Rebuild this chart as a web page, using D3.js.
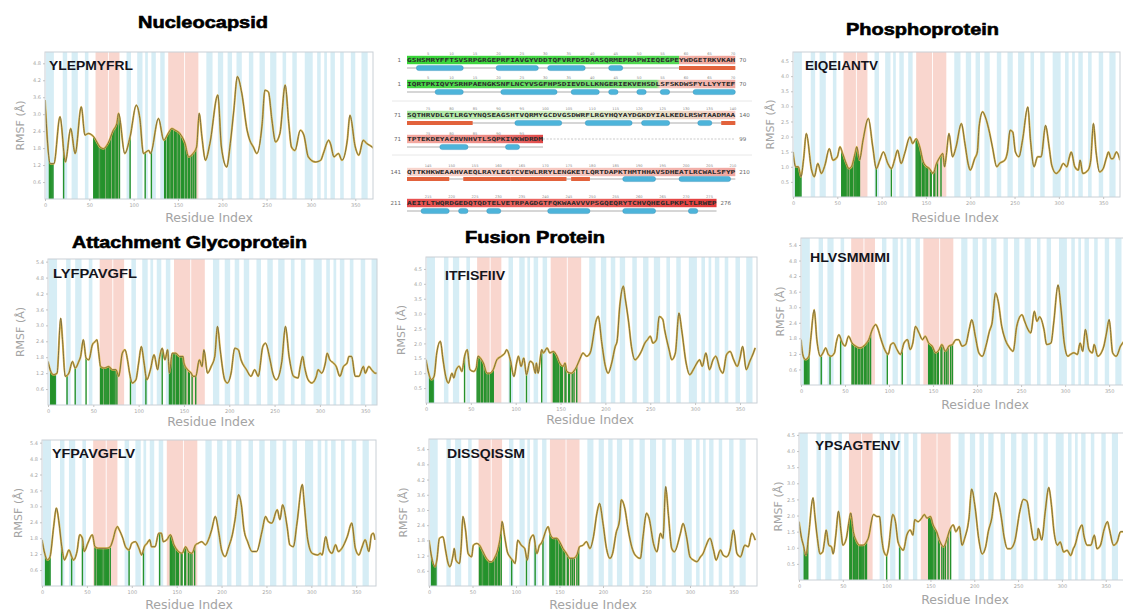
<!DOCTYPE html>
<html>
<head>
<meta charset="utf-8">
<script src="https://cdn.jsdelivr.net/npm/d3@7"></script>
<style>
  body { margin: 0; background: #fff; }
  svg { display: block; }
</style>
</head>
<body>
<svg width="1123" height="613"></svg>
<script>
// ---- data ----
const proteinTitles = ["Nucleocapsid", "Phosphoprotein", "Attachment Glycoprotein", "Fusion Protein"];
const peptides = ["YLEPMYFRL", "EIQEIANTV", "LYFPAVGFL", "ITFISFIIV", "HLVSMMIMI", "YFPAVGFLV", "DISSQISSM", "YPSAGTENV"];

const xTicks = [0, 50, 100, 150, 200, 250, 300, 350];
const yTicksA = [0.6, 1.2, 1.8, 2.4, 3.0, 3.6, 4.2, 4.8, 5.4];
const yTicksB = [0.5, 1.0, 1.5, 2.0, 2.5, 3.0, 3.5, 4.0, 4.5];

// [residue, RMSF] pairs
const rmsfYLEPMYFRL = [[0,3.5],[6,1.25],[10,1.25],[17,2.91],[23,1.31],[29,2.49],[34,1.61],[41,3.26],[45,2.26],[49,2.32],[55,2.2],[62,1.84],[66,1.78],[71,1.96],[77,2.43],[81,2.67],[83,3.03],[90,1.61],[96,2.2],[103,3.32],[107,2.85],[111,1.61],[117,1.72],[119,1.61],[128,2.85],[134,2.08],[139,2.32],[143,2.49],[147,2.43],[152,2.32],[158,1.96],[162,1.49],[167,1.61],[171,1.84],[174,3.03],[177,2.2],[181,1.37],[186,1.96],[195,3.68],[199,1.84],[205,1.13],[209,1.96],[213,3.14],[217,4.33],[222,3.74],[228,2.43],[231,2.08],[235,1.84],[239,1.61],[245,2.67],[248,3.85],[252,3.79],[256,2.79],[260,2.02],[265,2.32],[271,4.03],[275,2.67],[278,1.84],[282,1.72],[288,2.43],[292,2.26],[297,1.49],[305,1.31],[311,1.37],[314,1.61],[320,2.08],[322,1.96],[326,1.49],[331,1.61],[335,1.37],[341,2.08],[344,2.96],[350,1.84],[354,1.55],[359,2.08],[363,1.96],[369,1.84],[371,1.78]];
const rmsfEIQEIANTV = [[0,1.49],[3,1.0],[6,1.0],[9,0.67],[12,1.27],[15,2.1],[21,0.89],[24,0.67],[28,1.11],[32,0.78],[36,1.05],[41,1.6],[45,1.22],[50,1.33],[53,1.66],[56,1.44],[60,1.11],[63,0.94],[66,1.0],[70,1.44],[72,1.66],[75,1.22],[79,1.88],[85,2.6],[90,1.66],[94,0.94],[98,1.22],[102,1.49],[107,1.11],[111,0.94],[115,1.27],[118,1.55],[122,1.11],[126,1.44],[132,1.99],[135,1.77],[139,1.93],[143,1.66],[147,1.16],[151,1.0],[154,0.94],[158,0.78],[162,1.11],[166,1.33],[169,1.44],[171,1.0],[173,1.38],[176,2.1],[180,1.33],[184,1.66],[190,2.43],[194,1.77],[198,1.05],[200,0.89],[205,1.27],[208,1.49],[210,2.32],[214,2.82],[217,2.65],[222,2.1],[225,1.66],[230,1.0],[233,1.11],[239,1.22],[242,1.49],[245,2.21],[248,2.15],[251,1.49],[255,1.33],[259,1.88],[265,2.98],[268,1.88],[272,1.0],[276,1.33],[280,1.33],[285,2.37],[289,1.66],[292,1.05],[297,0.78],[301,0.89],[305,1.11],[309,1.0],[312,1.33],[314,1.49],[318,1.0],[322,0.89],[324,1.22],[327,0.78],[333,0.89],[336,1.22],[339,2.43],[342,1.49],[346,0.83],[350,0.94],[354,1.33],[356,1.49],[359,1.27],[361,1.27],[365,1.49],[369,1.22]];
const rmsfLYFPAVGFL = [[0,1.64],[3,1.27],[6,1.14],[10,1.2],[14,3.27],[16,2.46],[19,1.08],[23,1.2],[27,1.64],[30,1.39],[34,1.64],[36,1.83],[39,2.46],[42,1.77],[45,1.7],[49,2.27],[52,2.39],[54,2.46],[56,1.95],[58,1.45],[62,1.39],[67,1.45],[71,1.33],[75,1.33],[78,1.08],[82,1.95],[85,2.08],[88,1.64],[90,1.2],[93,0.83],[97,0.95],[100,1.58],[103,2.2],[106,1.58],[109,0.95],[113,1.33],[117,1.89],[121,1.33],[123,1.77],[126,2.14],[129,1.7],[132,2.08],[134,1.2],[137,1.95],[141,1.95],[145,1.83],[149,1.83],[150,1.58],[154,1.33],[158,1.2],[160,1.08],[163,1.08],[167,1.7],[170,1.45],[172,2.08],[176,1.2],[180,1.45],[184,1.83],[187,2.96],[190,2.08],[195,0.95],[198,0.83],[202,1.2],[206,2.14],[210,2.08],[213,1.7],[219,1.33],[224,1.08],[228,1.33],[232,1.08],[237,2.2],[240,2.33],[245,1.7],[248,1.2],[252,0.95],[258,1.64],[262,2.96],[266,1.83],[271,1.08],[276,1.02],[278,1.39],[281,1.83],[283,1.45],[287,0.95],[291,0.83],[296,1.08],[298,1.33],[302,1.2],[306,1.58],[308,1.95],[311,1.7],[315,1.58],[318,1.45],[322,1.08],[326,1.45],[330,1.58],[332,1.83],[335,1.83],[339,1.08],[343,1.08],[348,1.45],[350,1.2],[354,1.45],[357,1.33],[361,1.2],[365,1.2]];
const rmsfITFISFIIV = [[0,1.45],[3,1.0],[6,0.78],[9,0.89],[12,1.68],[16,2.07],[19,1.45],[22,0.89],[25,0.67],[29,1.0],[31,0.84],[33,1.06],[37,1.23],[40,1.06],[43,1.57],[46,1.79],[49,1.12],[53,1.06],[56,1.17],[58,1.57],[62,1.45],[64,1.34],[68,1.0],[71,1.0],[75,1.12],[79,1.45],[84,1.57],[88,1.68],[90,1.79],[94,1.45],[98,0.89],[101,1.34],[103,1.57],[106,1.23],[109,1.51],[112,0.95],[116,1.4],[119,1.34],[122,1.0],[123,1.34],[125,1.0],[129,1.79],[131,1.68],[135,1.85],[138,1.68],[142,1.73],[146,1.57],[149,1.34],[153,1.23],[155,1.34],[157,1.06],[162,1.0],[166,1.12],[168,1.23],[172,1.51],[175,1.68],[179,1.57],[183,1.68],[190,2.8],[192,2.91],[196,2.01],[200,1.23],[203,1.0],[207,1.34],[211,1.9],[213,2.07],[216,3.25],[220,3.92],[222,3.53],[226,2.69],[229,1.9],[233,1.45],[237,1.57],[240,1.73],[244,2.01],[247,2.13],[250,2.24],[253,2.01],[257,2.13],[260,2.9],[264,2.8],[266,2.46],[271,1.79],[274,1.45],[278,1.68],[282,3.02],[285,2.46],[290,1.34],[294,0.95],[298,1.12],[302,1.34],[305,1.45],[308,1.23],[312,1.68],[316,1.12],[320,1.45],[323,1.57],[328,1.12],[331,1.0],[335,1.62],[339,1.73],[343,1.45],[347,1.23],[350,1.5],[353,1.9],[357,1.12],[361,1.4],[365,1.68],[367,1.85]];
const rmsfHLVSMMIMI = [[0,1.75],[2,1.18],[5,0.98],[9,1.11],[11,1.75],[15,2.9],[18,1.75],[22,1.11],[25,1.24],[28,1.43],[31,1.18],[34,1.11],[38,1.24],[40,1.62],[43,1.94],[47,1.62],[50,1.5],[54,1.88],[58,1.62],[62,1.5],[67,1.43],[73,1.56],[77,1.75],[81,2.14],[85,2.33],[87,2.2],[91,1.75],[95,1.37],[99,1.18],[102,1.56],[105,1.62],[109,1.37],[113,1.18],[117,1.62],[121,1.75],[124,1.37],[127,1.62],[130,2.26],[134,2.01],[138,1.75],[141,1.88],[145,1.62],[149,1.5],[153,1.24],[157,1.37],[160,1.56],[164,1.3],[168,1.5],[172,1.56],[176,1.75],[179,1.75],[183,1.5],[187,1.56],[191,2.14],[194,2.52],[198,1.88],[202,1.24],[206,1.11],[210,1.5],[214,2.07],[217,2.39],[221,3.54],[224,3.22],[228,2.26],[232,1.75],[237,1.43],[241,1.3],[245,2.26],[251,2.71],[254,2.46],[257,2.2],[261,2.01],[265,2.84],[268,2.46],[271,2.63],[276,2.14],[279,1.56],[284,1.62],[287,2.39],[292,3.86],[295,3.05],[299,1.62],[303,1.11],[306,1.18],[310,1.24],[314,1.18],[317,1.62],[320,1.3],[323,2.14],[327,1.37],[331,1.24],[333,1.56],[337,1.11],[341,1.24],[344,1.5],[347,2.01],[350,2.52],[354,1.24],[358,1.11],[363,1.5],[367,1.69]];
const rmsfYFPAVGFLV = [[0,1.74],[3,1.23],[6,0.98],[9,1.11],[13,2.24],[16,2.94],[19,2.37],[22,1.48],[25,0.98],[27,1.11],[30,1.36],[33,1.11],[35,0.98],[39,1.3],[42,1.93],[45,1.8],[47,1.3],[51,1.61],[56,1.93],[59,1.48],[63,1.42],[69,1.42],[72,1.42],[76,1.48],[79,1.74],[82,2.12],[84,2.24],[86,2.12],[90,1.8],[93,1.48],[97,1.36],[100,1.61],[104,1.67],[108,1.42],[111,1.17],[114,1.48],[117,1.61],[120,1.74],[122,1.48],[126,1.48],[130,1.99],[133,1.99],[135,1.67],[139,1.74],[143,1.93],[147,1.55],[152,1.3],[156,1.23],[160,1.48],[163,1.3],[167,1.23],[171,1.55],[174,1.61],[178,1.67],[182,1.55],[186,1.8],[189,2.12],[193,2.62],[197,1.99],[200,1.36],[204,1.11],[208,1.48],[212,1.93],[215,2.5],[219,3.44],[222,3.06],[225,2.12],[229,1.67],[234,1.3],[239,1.3],[245,2.05],[249,2.62],[252,2.43],[256,2.37],[262,2.87],[265,2.5],[268,3.06],[273,2.24],[276,1.55],[280,1.48],[284,2.37],[290,3.82],[292,3.13],[296,1.74],[301,1.23],[307,1.17],[310,1.23],[312,1.17],[316,1.86],[319,1.42],[323,1.23],[327,1.55],[330,1.3],[334,1.42],[340,1.86],[345,2.37],[349,1.42],[353,1.17],[356,1.42],[360,1.74],[364,1.3],[367,1.93],[369,1.99],[371,1.74]];
const rmsfDISSQISSM = [[0,1.81],[3,1.15],[7,0.76],[9,1.02],[12,1.88],[16,1.94],[19,1.42],[22,0.89],[24,0.76],[28,1.28],[29,1.48],[31,1.02],[35,0.89],[37,1.55],[39,2.74],[42,2.21],[45,1.28],[49,1.15],[51,1.61],[55,1.68],[58,1.61],[62,1.35],[66,1.09],[70,0.96],[72,0.96],[76,1.15],[79,1.42],[83,2.21],[84,2.54],[87,1.94],[90,1.35],[93,1.15],[96,1.02],[99,0.89],[102,1.81],[106,1.61],[110,1.48],[113,1.02],[116,1.81],[120,2.01],[124,1.28],[127,1.61],[129,1.68],[137,2.34],[139,2.08],[143,1.88],[147,1.88],[150,1.75],[154,1.48],[158,1.28],[162,1.09],[166,1.09],[170,1.22],[173,1.55],[177,1.61],[181,1.75],[185,1.48],[189,1.94],[193,2.87],[196,3.26],[200,2.47],[204,1.48],[208,1.09],[211,1.28],[215,2.08],[219,2.6],[221,3.4],[225,3.07],[229,2.21],[233,1.55],[237,1.22],[243,1.09],[246,1.94],[250,2.87],[253,2.67],[258,1.68],[262,1.35],[266,2.08],[269,1.88],[272,3.92],[275,2.87],[279,1.48],[282,1.35],[289,2.08],[292,2.47],[296,1.94],[300,1.15],[304,1.02],[308,0.96],[312,1.15],[315,1.28],[318,1.55],[323,1.88],[327,1.42],[330,1.02],[335,1.42],[338,1.22],[342,1.15],[346,1.42],[350,2.21],[354,1.28],[358,1.15],[363,1.61],[367,1.55],[371,2.08],[375,1.81]];
const rmsfYPSAGTENV = [[0,1.81],[3,1.29],[5,1.08],[8,0.76],[11,1.39],[16,2.55],[18,2.03],[21,1.29],[24,0.81],[27,0.87],[29,1.18],[31,1.55],[34,1.08],[37,1.03],[39,0.81],[42,1.39],[45,2.13],[48,1.5],[50,1.08],[54,1.29],[57,1.81],[59,2.08],[62,1.5],[66,1.18],[69,1.08],[73,1.08],[77,1.18],[79,1.29],[85,2.03],[89,1.97],[92,1.97],[94,1.39],[97,0.87],[100,0.76],[102,0.97],[107,2.03],[110,1.81],[113,1.18],[117,0.97],[119,0.92],[123,1.39],[127,1.55],[130,1.39],[132,1.87],[136,1.81],[140,1.92],[143,2.03],[146,1.92],[150,1.97],[153,1.71],[157,1.5],[161,1.18],[165,1.03],[169,1.29],[172,1.55],[176,1.71],[179,1.5],[183,1.66],[186,1.08],[189,1.29],[194,1.92],[197,2.82],[201,2.24],[205,1.29],[209,0.81],[213,1.03],[216,1.5],[220,1.92],[224,2.71],[227,2.5],[231,1.92],[234,1.34],[238,0.97],[241,0.97],[246,1.18],[252,2.13],[256,2.5],[260,2.45],[264,1.81],[268,1.24],[272,1.29],[273,1.6],[277,1.24],[281,2.13],[285,2.87],[288,2.34],[291,1.5],[295,1.08],[298,1.18],[302,0.87],[306,0.92],[310,0.76],[313,0.97],[315,1.08],[319,1.5],[323,1.71],[325,1.39],[329,1.08],[333,1.08],[337,1.39],[340,0.97],[344,1.08],[348,1.55],[352,1.81],[354,1.6],[359,1.08],[363,1.18],[367,1.5],[370,1.5]];

// residues drawn as green bars (peptide contacts)
const contactsYLEPMYFRL = [5,6,7,8,9,21,55,56,57,58,59,60,62,63,64,65,66,67,69,70,71,72,73,74,76,77,78,80,81,82,84,96,113,120,135,136,138,139,140,142,143,144,146,147,148,150,151,152,154,155,156,158,159,160,162,163,165,167,168,170];
const contactsEIQEIANTV = [3,4,5,6,7,8,9,55,56,57,58,59,60,62,63,65,66,67,69,70,71,72,73,74,75,94,111,139,140,141,142,143,144,146,147,148,150,151,152,155,156,159,160,163,167];
const contactsLYFPAVGFL = [3,4,5,6,7,8,21,30,42,58,59,60,62,63,64,65,66,67,69,70,71,72,73,74,76,91,108,126,134,135,136,138,139,140,142,143,144,146,147,148,150,152,155,156,159,163];
const contactsITFISFIIV = [4,5,6,7,8,43,57,58,59,60,62,63,65,66,67,69,70,72,73,74,75,94,112,129,142,143,144,145,146,147,148,150,151,152,155,156,159,160,163,165,168];
const contactsHLVSMMIMI = [4,5,6,7,8,9,23,33,45,58,59,60,62,63,65,66,67,69,70,72,73,74,76,77,79,98,115,145,146,147,148,149,150,152,153,155,156,159,160,163,165,167,170,172];
const contactsYFPAVGFLV = [4,5,6,7,8,9,22,33,45,59,60,62,63,64,65,66,67,69,70,71,72,73,74,76,97,113,131,143,144,145,146,147,148,150,151,152,155,156,159,160,163,165,167,170];
const contactsDISSQISSM = [3,4,5,6,7,8,58,59,60,62,63,64,65,66,67,69,70,71,72,73,74,76,77,78,80,81,83,95,112,122,131,139,140,141,142,143,144,146,147,148,150,151,152,154,155,156,159,160,163,165,167,170,172];
const contactsYPSAGTENV = [6,7,8,9,10,58,59,60,62,63,64,65,66,67,69,70,71,72,73,74,76,77,100,115,148,149,150,151,152,153,155,156,159,160,163,165,167,170,173];

// shaded residue ranges behind every plot
const blueBands = [[1,10],[20,25],[30,37],[45,49],[92,97],[104,110],[113,116],[120,125],[130,135],[182,189],[195,201],[206,211],[216,222],[230,235],[242,248],[254,261],[268,272],[279,284],[293,302],[307,311],[315,318],[322,327],[333,337],[345,350],[357,364]];
const pinkBands = [[57,71],[72,84],[139,157],[158,173]];

// sequence panel
const seqHeavy = "GSHSMRYFFTSVSRPGRGEPRFIAVGYVDDTQFVRFDSDAASQRMEPRAPWIEQEGPEYWDGETRKVKAHSQTHRVDLGTLRGYYNQSEAGSHTVQRMYGCDVGSDWRFLRGYHQYAYDGKDYIALKEDLRSWTAADMAAQTTKHKWEAAHVAEQLRAYLEGTCVEWLRRYLENGKETLQRTDAPKTHMTHHAVSDHEATLRCWALSFYPAEITLTWQRDGEDQTQDTELVETRPAGDGTFQKWAAVVVPSGQEQRYTCHVQHEGLPKPLTLRWEP";
const seqB2m = "IQRTPKIQVYSRHPAENGKSNFLNCYVSGFHPSDIEVDLLKNGERIEKVEHSDLSFSKDWSFYLLYYTEFTPTEKDEYACRVNHVTLSQPKIVKWDRDM";
const seqRows = [["heavy",1,70],["b2m",1,70],["heavy",71,140],["b2m",71,99],["heavy",141,210],["heavy",211,276]];
const ssHeavy = [[3,12,"strand"],[20,28,"strand"],[31,38,"strand"],[44,46,"strand"],[59,84,"helix"],[94,103,"strand"],[109,118,"strand"],[121,126,"strand"],[133,135,"strand"],[138,149,"helix"],[153,162,"helix"],[163,174,"helix"],[176,179,"helix"],[187,193,"strand"],[199,209,"strand"],[214,219,"strand"],[222,223,"strand"],[228,230,"strand"],[241,249,"strand"],[257,263,"strand"],[271,272,"strand"]];
const ssB2m = [[7,12,"strand"],[21,32,"strand"],[36,41,"strand"],[44,45,"strand"],[50,51,"strand"],[55,56,"strand"],[62,70,"strand"],[78,83,"strand"],[92,94,"strand"]];

// ---- layout ----
const svg = d3.select("svg");
const font = "'Liberation Sans', Arial, sans-serif";

const panels = [
  {pep: 0, data: rmsfYLEPMYFRL, contacts: contactsYLEPMYFRL, x0: 45, x1: 373, y0: 52, y1: 199, xmax: 370, ymax: 5.2, yt: yTicksA, lab: [49, 70, 84], ylab: 20, xlab: [209, 222]},
  {pep: 1, data: rmsfEIQEIANTV, contacts: contactsEIQEIANTV, x0: 793, x1: 1120, y0: 52, y1: 197, xmax: 369, ymax: 4.8, yt: yTicksB, lab: [805, 70, 73], ylab: 770, xlab: [955, 222]},
  {pep: 2, data: rmsfLYFPAVGFL, contacts: contactsLYFPAVGFL, x0: 48, x1: 377, y0: 259, y1: 405, xmax: 363, ymax: 5.5, yt: yTicksA, lab: [53, 278, 84], ylab: 20, xlab: [211, 426]},
  {pep: 3, data: rmsfITFISFIIV, contacts: contactsITFISFIIV, x0: 426, x1: 757, y0: 257, y1: 403, xmax: 369, ymax: 4.9, yt: yTicksB, lab: [445, 280, 60], ylab: 401, xlab: [590, 424]},
  {pep: 4, data: rmsfHLVSMMIMI, contacts: contactsHLVSMMIMI, x0: 801, x1: 1125, y0: 238, y1: 385, xmax: 368, ymax: 5.67, yt: yTicksA, lab: [810, 262, 80], ylab: 780, xlab: [985, 409]},
  {pep: 5, data: rmsfYFPAVGFLV, contacts: contactsYFPAVGFLV, x0: 42, x1: 376, y0: 440, y1: 586, xmax: 372, ymax: 5.5, yt: yTicksA, lab: [52, 458, 83], ylab: 18, xlab: [189, 609]},
  {pep: 6, data: rmsfDISSQISSM, contacts: contactsDISSQISSM, x0: 429, x1: 757, y0: 439, y1: 586, xmax: 377, ymax: 5.8, yt: yTicksA, lab: [447, 458, 78], ylab: 403, xlab: [593, 609]},
  {pep: 7, data: rmsfYPSAGTENV, contacts: contactsYPSAGTENV, x0: 799, x1: 1125, y0: 433, y1: 580, xmax: 372, ymax: 4.56, yt: yTicksB, lab: [815, 450, 85], ylab: 778, xlab: [965, 604]}
];

const titles = [
  {t: 0, x: 138, y: 28, w: 130},
  {t: 1, x: 846, y: 35, w: 153},
  {t: 2, x: 72, y: 248, w: 235},
  {t: 3, x: 465, y: 243, w: 140}
];

function styleAxis(sel) {
  sel.select(".domain").remove();
  sel.selectAll("line").attr("stroke", "#c4c4c4");
  sel.selectAll("text").attr("fill", "#a6a6a6").style("font-size", "5px").style("font-family", "'DejaVu Sans', sans-serif");
}

panels.forEach((p, i) => {
  const g = svg.append("g");
  const x = d3.scaleLinear().domain([0, p.xmax]).range([p.x0, p.x1]);
  const y = d3.scaleLinear().domain([0, p.ymax]).range([p.y1, p.y0]);

  const defs = g.append("defs");
  defs.append("clipPath").attr("id", "frame" + i)
    .append("rect").attr("x", p.x0).attr("y", p.y0).attr("width", p.x1 - p.x0).attr("height", p.y1 - p.y0);

  // bars stop at the curve: clip them with the area under it
  const area = d3.area().x(d => x(d[0])).y0(y(0)).y1(d => y(d[1])).curve(d3.curveMonotoneX);
  defs.append("clipPath").attr("id", "under" + i)
    .append("path").attr("d", area(p.data));

  const plot = g.append("g").attr("clip-path", `url(#frame${i})`);

  plot.selectAll("rect.blue").data(blueBands).join("rect")
    .attr("x", d => x(d[0])).attr("width", d => x(d[1]) - x(d[0]))
    .attr("y", p.y0).attr("height", p.y1 - p.y0)
    .attr("fill", "#d6edf5");

  plot.selectAll("rect.pink").data(pinkBands).join("rect")
    .attr("x", d => x(d[0])).attr("width", d => x(d[1]) - x(d[0]))
    .attr("y", p.y0).attr("height", p.y1 - p.y0)
    .attr("fill", "#f9d6ce");

  plot.append("g").attr("clip-path", `url(#under${i})`)
    .selectAll("rect").data(p.contacts).join("rect")
    .attr("x", d => x(d) - 0.7).attr("width", 1.4)
    .attr("y", p.y0).attr("height", p.y1 - p.y0)
    .attr("fill", "#25922c");

  const line = d3.line().x(d => x(d[0])).y(d => y(d[1])).curve(d3.curveMonotoneX);
  plot.append("path").attr("d", line(p.data))
    .attr("fill", "none").attr("stroke", "#e2ba4c").attr("stroke-width", 2);
  plot.append("path").attr("d", line(p.data))
    .attr("fill", "none").attr("stroke", "#6f6742").attr("stroke-width", 0.9);

  g.append("rect").attr("x", p.x0).attr("y", p.y0)
    .attr("width", p.x1 - p.x0).attr("height", p.y1 - p.y0)
    .attr("fill", "none").attr("stroke", "#c9d0d6").attr("stroke-width", 1);

  g.append("g").attr("transform", `translate(0,${p.y1})`)
    .call(d3.axisBottom(x).tickValues(xTicks).tickSize(2).tickPadding(2).tickFormat(d3.format("d")))
    .call(styleAxis);
  g.append("g").attr("transform", `translate(${p.x0},0)`)
    .call(d3.axisLeft(y).tickValues(p.yt.filter(v => v <= p.ymax)).tickSize(2).tickPadding(2).tickFormat(d3.format(".1f")))
    .call(styleAxis);

  g.append("text")
    .attr("transform", `translate(${p.ylab},${(p.y0 + p.y1) / 2}) rotate(-90)`)
    .attr("text-anchor", "middle").attr("dy", "0.35em")
    .attr("fill", "#a4a4a4").style("font-family", "'DejaVu Sans', sans-serif").style("font-size", "11px")
    .text("RMSF (Å)");

  g.append("text")
    .attr("x", p.xlab[0]).attr("y", p.xlab[1])
    .attr("text-anchor", "middle")
    .attr("fill", "#a4a4a4").style("font-family", "'DejaVu Sans', sans-serif").style("font-size", "12.5px")
    .text("Residue Index");

  g.append("text")
    .attr("x", p.lab[0]).attr("y", p.lab[1])
    .attr("textLength", p.lab[2]).attr("lengthAdjust", "spacingAndGlyphs")
    .attr("fill", "#14141c").style("font-family", font).style("font-weight", "bold").style("font-size", "12.5px")
    .text(peptides[p.pep]);
});

titles.forEach(t => {
  svg.append("text")
    .attr("x", t.x).attr("y", t.y)
    .attr("textLength", t.w).attr("lengthAdjust", "spacingAndGlyphs")
    .attr("fill", "#000").attr("stroke", "#000").attr("stroke-width", 0.6)
    .style("font-family", font).style("font-weight", "bold").style("font-size", "17px")
    .text(proteinTitles[t.t]);
});

// ---- sequence / secondary structure panel ----
const seqX = 407, charW = 4.69;
const rowY = [[53, 60, 68], [77, 84, 92], [108, 115, 123], [133, 139, 147], [165, 172, 179], [196, 203, 211]];
const rowFill = [
  [[0, "#38d538"], [0.83, "#55d955"], [0.83, "#f3b4a9"], [1, "#efa298"]],
  [[0, "#44d744"], [0.76, "#80dc7c"], [0.77, "#f6c9c1"], [1, "#f1a9a1"]],
  [[0, "#a6e79e"], [0.5, "#d9f0c9"], [1, "#f6cbc3"]],
  [[0, "#f4aaa2"], [0.6, "#ee8a84"], [1, "#e04747"]],
  [[0, "#f8d6ce"], [0.6, "#f6c4bc"], [1, "#f0a6a0"]],
  [[0, "#e84f4f"], [0.5, "#ec6b66"], [1, "#e23b3b"]]
];
const seqG = svg.append("g");
const sdefs = seqG.append("defs");

svg.append("line").attr("x1", 392).attr("x2", 752).attr("y1", 101).attr("y2", 101).attr("stroke", "#e2e2e2").attr("stroke-width", 0.8);
svg.append("line").attr("x1", 392).attr("x2", 752).attr("y1", 155).attr("y2", 155).attr("stroke", "#e2e2e2").attr("stroke-width", 0.8);

seqRows.forEach((r, i) => {
  const [chain, from, to] = r;
  const seq = chain === "heavy" ? seqHeavy : seqB2m;
  const ss = chain === "heavy" ? ssHeavy : ssB2m;
  const letters = seq.slice(from - 1, to);
  const n = letters.length;
  const xr = d3.scaleLinear().domain([from - 0.5, from - 0.5 + n]).range([seqX, seqX + n * charW]);
  const [yNum, ySeq, ySS] = rowY[i];

  const grad = sdefs.append("linearGradient").attr("id", "row" + i);
  rowFill[i].forEach(s => grad.append("stop").attr("offset", s[0]).attr("stop-color", s[1]));

  seqG.append("rect").attr("x", xr(from - 0.5)).attr("y", ySeq - 4.2)
    .attr("width", n * charW).attr("height", 8.4).attr("fill", `url(#row${i})`);
  seqG.append("text").attr("x", xr(from - 0.5)).attr("y", ySeq + 2)
    .attr("textLength", n * charW).attr("lengthAdjust", "spacingAndGlyphs")
    .attr("fill", "#2b2b2b").style("font-family", "'DejaVu Sans Mono', monospace")
    .style("font-size", "5.6px").style("font-weight", "bold")
    .text(letters);

  seqG.selectAll(null).data(d3.range(from, from + n).filter(k => k % 5 === 0)).join("text")
    .attr("x", d => xr(d)).attr("y", yNum + 1.5).attr("text-anchor", "middle")
    .attr("fill", "#8a8a8a").style("font-family", "'DejaVu Sans', sans-serif").style("font-size", "3.6px")
    .text(d => d);

  seqG.append("text").attr("x", 401).attr("y", ySeq + 2).attr("text-anchor", "end")
    .attr("fill", "#666").style("font-family", "'DejaVu Sans', sans-serif").style("font-size", "5.5px").text(from);
  const endX = n < 70 && chain === "b2m" ? seqX + 70 * charW : seqX + n * charW;
  seqG.append("text").attr("x", endX + 4).attr("y", ySeq + 2)
    .attr("fill", "#666").style("font-family", "'DejaVu Sans', sans-serif").style("font-size", "5.5px").text(to);
  if (chain === "b2m" && n < 70) {
    seqG.append("line").attr("x1", seqX + n * charW).attr("x2", endX).attr("y1", ySeq).attr("y2", ySeq)
      .attr("stroke", "#aaa").attr("stroke-width", 0.6).attr("stroke-dasharray", "2,1.5");
  }

  seqG.append("line").attr("x1", xr(from - 0.5)).attr("x2", xr(from - 0.5 + n)).attr("y1", ySS).attr("y2", ySS)
    .attr("stroke", "#777").attr("stroke-width", 0.6);

  const segs = ss.filter(s => s[1] >= from && s[0] <= to)
    .map(s => [Math.max(s[0], from), Math.min(s[1], to), s[2]]);
  seqG.selectAll(null).data(segs).join("rect")
    .attr("x", d => xr(d[0] - 0.5)).attr("width", d => xr(d[1] + 0.5) - xr(d[0] - 0.5))
    .attr("y", d => d[2] === "strand" ? ySS - 2.6 : ySS - 2)
    .attr("height", d => d[2] === "strand" ? 5.2 : 4)
    .attr("rx", d => d[2] === "strand" ? 2.5 : 0)
    .attr("fill", d => d[2] === "strand" ? "#4db4da" : "#e2623c")
    .attr("stroke", d => d[2] === "strand" ? "#2d8db5" : "none").attr("stroke-width", 0.4);
});
</script>
</body>
</html>
